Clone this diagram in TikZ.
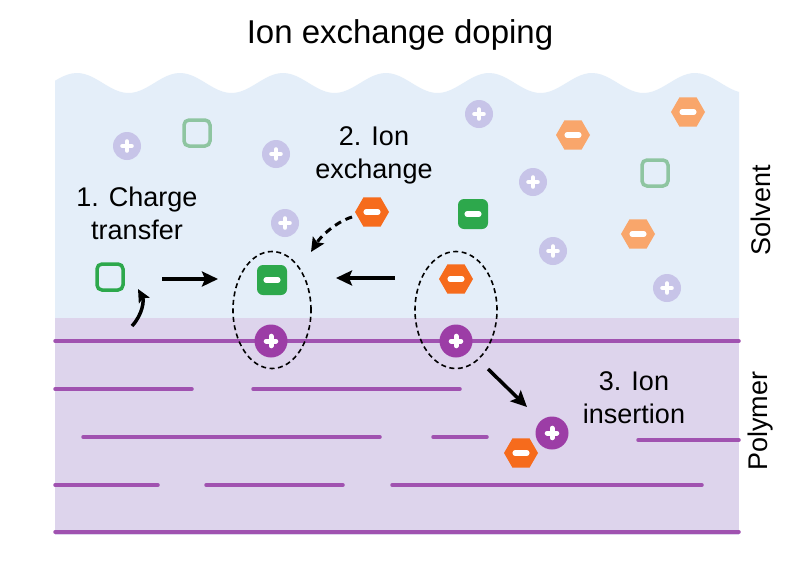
\documentclass[tikz,border=0pt]{standalone}
\usepackage{fontspec}
\setmainfont{Liberation Sans}
\usetikzlibrary{shapes.geometric,arrows.meta}

\definecolor{solventbg}{HTML}{E4EEF9}
\definecolor{polymerbg}{HTML}{DDD4EC}
\definecolor{chaincol}{HTML}{A052B0}
\definecolor{catlight}{HTML}{C7C4E8}
\definecolor{catdark}{HTML}{9C3DA6}
\definecolor{holegreen}{HTML}{2DA84C}
\definecolor{holefade}{HTML}{8EC5A1}
\definecolor{hexdark}{HTML}{F66B1C}
\definecolor{hexlight}{HTML}{F9A66B}

\begin{document}
\begin{tikzpicture}[x=1pt,y=-1pt,
        txt/.style={font=\fontsize{27}{33}\selectfont, align=center, inner sep=0pt},
        chain/.style={chaincol, line width=3.5pt, line cap=round},
        plussign/.style={path picture={
            \draw[white, line width=#1, line cap=round]
              ([xshift=-4.8pt]path picture bounding box.center) -- ([xshift=4.8pt]path picture bounding box.center)
              ([yshift=-4.8pt]path picture bounding box.center) -- ([yshift=4.8pt]path picture bounding box.center);}},
        minussign/.style={path picture={
            \draw[white, line width=5.5pt, line cap=round]
              ([xshift=-5.8pt]path picture bounding box.center) -- ([xshift=5.8pt]path picture bounding box.center);}},
        solvcat/.style={circle, fill=catlight, minimum size=28pt, inner sep=0pt, plussign=4pt},
        polycat/.style={circle, fill=catdark, minimum size=33pt, inner sep=0pt, plussign=5pt},
        hole/.style={rectangle, rounded corners=5pt, draw=holegreen, line width=3.5pt, minimum size=26pt, inner sep=0pt},
        anion/.style={rectangle, rounded corners=6pt, fill=holegreen, minimum size=30pt, inner sep=0pt, minussign},
        hexion/.style={regular polygon, regular polygon sides=6, minimum size=34pt, inner sep=0pt, minussign},
        pair/.style={ellipse, draw, dashed, dash pattern=on 5pt off 3.5pt, line width=1.6pt, inner sep=0pt},
        move/.style={line width=3.5pt, -{Stealth[length=16pt,width=15pt,inset=3pt]}}]
        % Coordinates
        \coordinate (ctA) at (132,326);
        \coordinate (ctB) at (138,289);
        \coordinate (ctC) at (162,279);
        \coordinate (ctD) at (218,279);
        \coordinate (exA) at (395,278);
        \coordinate (exB) at (336,278);
        \coordinate (exC) at (352,217);
        \coordinate (exD) at (311,252);
        \coordinate (inA) at (488,369);
        \coordinate (inB) at (527,407);

        % Drawing
        \fill[white] (0,0) rectangle (800,560);
        \fill[solventbg] plot[domain=55:739, samples=160] (\x, {83-10*cos((\x-180)*3.49515)}) -- (739,318) -- (55,318) -- cycle;
        \fill[polymerbg] (55,318) rectangle (739,535);
        \foreach \xa/\xb/\yy in {55/739/341, 55/192/389, 253/460/389, 83/380/437, 433/487/437,
                                 638/739/440, 55/158/485, 206/343/485, 392/702/485, 55/739/532}
          \draw[chain] (\xa,\yy) -- (\xb,\yy);

        % ions in the solvent
        \node[solvcat] (sc1) at (127,146) {};
        \node[solvcat] (sc2) at (276,154) {};
        \node[solvcat] (sc3) at (285,223) {};
        \node[solvcat] (sc4) at (479,114) {};
        \node[solvcat] (sc5) at (533,182) {};
        \node[solvcat] (sc6) at (553,251) {};
        \node[solvcat] (sc7) at (667,288) {};
        \node[hole, draw=holefade] (fh1) at (197,133) {};
        \node[hole, draw=holefade] (fh2) at (655,173) {};
        \node[hexion, fill=hexlight] (lx1) at (573,135) {};
        \node[hexion, fill=hexlight] (lx2) at (688,112) {};
        \node[hexion, fill=hexlight] (lx3) at (638,234) {};
        \node[anion] (an2) at (473,214) {};
        \node[hexion, fill=hexdark] (dx1) at (372,212) {};

        % ion pairs at the surface
        \node[pair, minimum width=78pt, minimum height=117pt] (pair1) at (272,310) {};
        \node[pair, minimum width=82pt, minimum height=117pt] (pair2) at (456,310) {};
        \node[hole] (h0) at (110,277) {};
        \node[anion] (an1) at (272,280) {};
        \node[polycat] (pc1) at (271,341) {};
        \node[hexion, fill=hexdark] (dx2) at (456,279) {};
        \node[polycat] (pc2) at (456,341) {};
        \node[polycat] (pc3) at (552,433) {};
        \node[hexion, fill=hexdark] (dx3) at (521,453) {};

        % arrows
        \draw[line width=3.5pt, -{Stealth[length=13pt,width=12pt,inset=2.5pt]}] (ctA) .. controls (143,314) and (144,300) .. (ctB);
        \draw[move] (ctC) -- (ctD);
        \draw[move] (exA) -- (exB);
        \draw[line width=3pt, dash pattern=on 7pt off 5pt, -{Stealth[length=14pt,width=13pt,inset=2.5pt]}] (exC) .. controls (336,222) and (321,236) .. (exD);
        \draw[move] (inA) -- (inB);

        % labels
        \node[txt, anchor=base, font=\fontsize{33}{40}\selectfont] (title) at (400,43) {Ion exchange doping};
        \node[txt, anchor=north] (lab1) at (137,187) {1. Charge\\transfer};
        \node[txt, anchor=north] (lab2) at (374,126) {2. Ion\\exchange};
        \node[txt, anchor=north] (lab3) at (634,371) {3. Ion\\insertion};
        \node[txt, rotate=90] (solv) at (761,210) {Solvent};
        \node[txt, rotate=90] (poly) at (761,421) {Polymer};
        \end{tikzpicture}
\end{document}
